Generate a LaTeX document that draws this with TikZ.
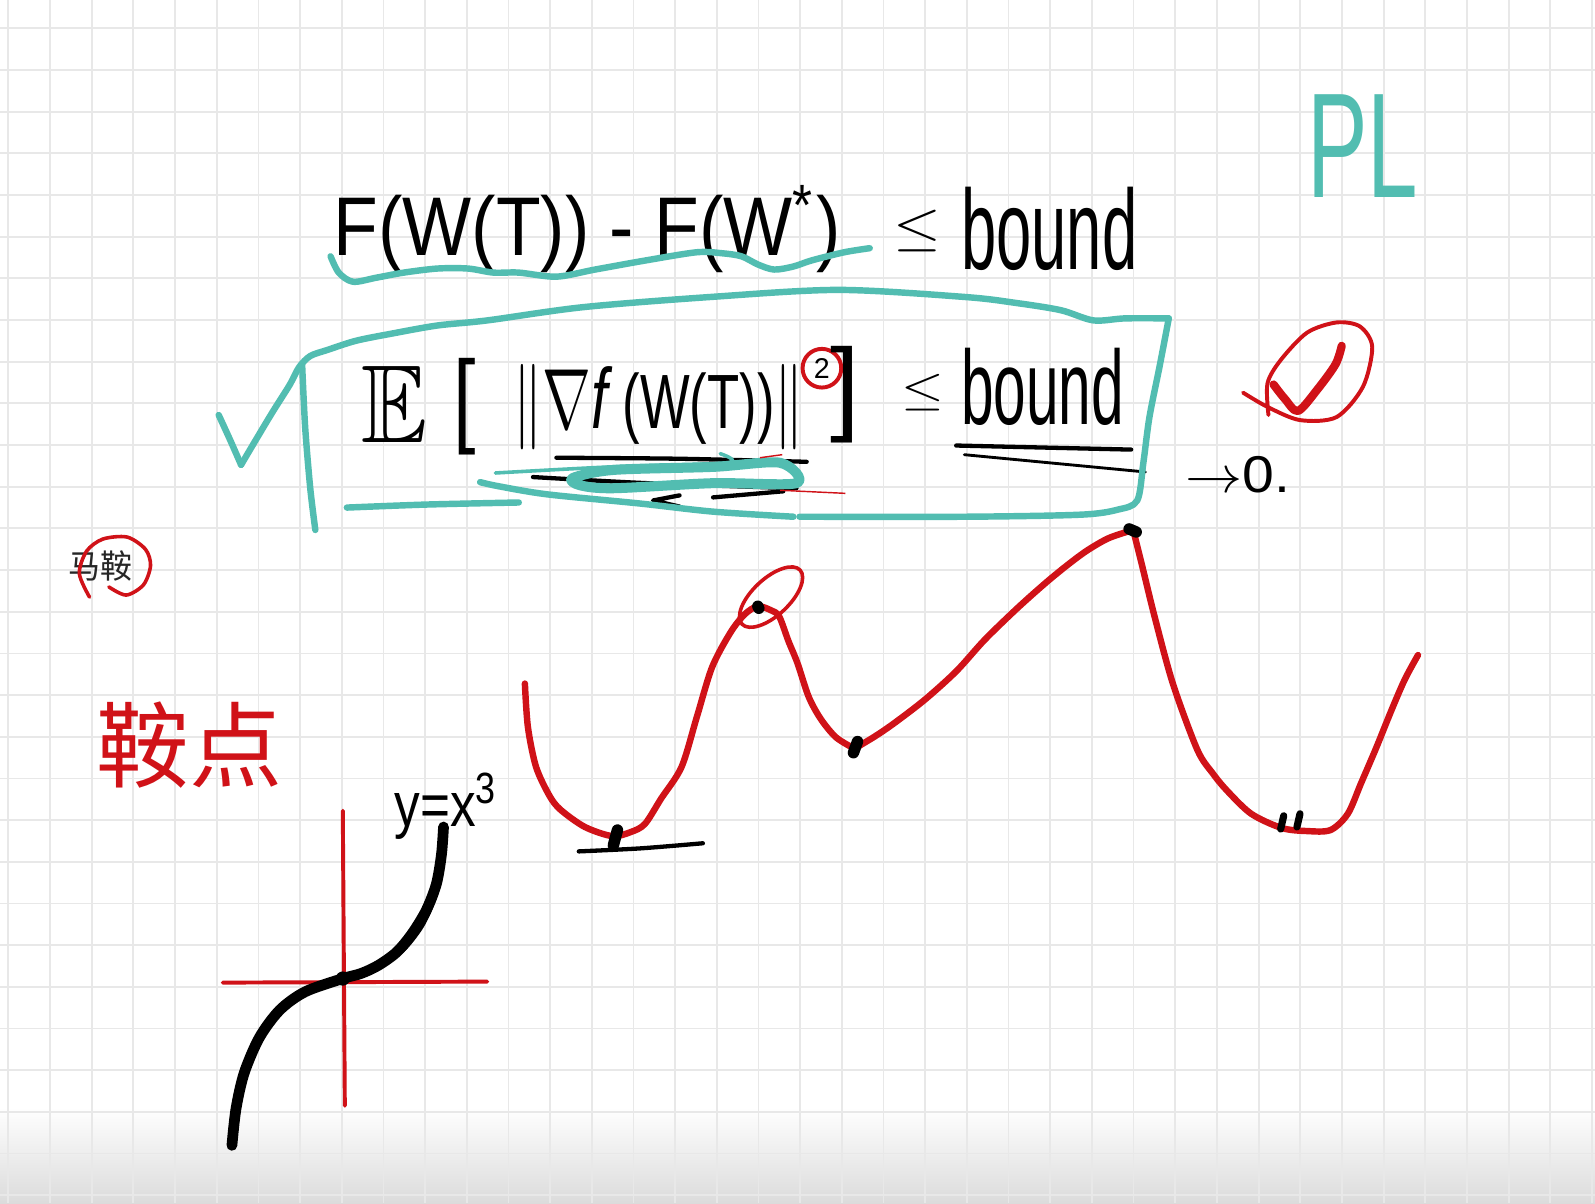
\documentclass[tikz,border=0pt]{standalone}
\usepackage{amssymb}
\usepackage{graphicx}
\usepackage{fontspec}
\setmainfont{Liberation Sans}
\newfontfamily\cjk{Noto Sans CJK SC}
\usetikzlibrary{calc}

\definecolor{penred}{RGB}{208,18,24}
\definecolor{penteal}{RGB}{82,189,177}
\definecolor{gridgray}{RGB}{232,232,232}

% squeeze a piece of handwriting into a w x h box (cm)
\newcommand{\handfit}[3]{\resizebox*{#1cm}{#2cm}{#3}}

\begin{document}
\begin{tikzpicture}[x=0.01cm, y=-0.01cm,
  every node/.style={inner sep=0pt, outer sep=0pt},
  hand/.style={anchor=north west},
  ink/.style={line cap=round, line join=round},
  redpen/.style={ink, draw=penred, line width=1.8pt},
  tealpen/.style={ink, draw=penteal, line width=1.8pt},
  blackpen/.style={ink, draw=black, line width=1.2pt},
  gridline/.style={draw=gridgray, line width=0.5pt},
  dotmark/.style={ink, draw=black, line width=3.2pt}
]
% paper
\useasboundingbox (0,0) rectangle (1568,1183);
\fill[white] (0,0) rectangle (1568,1183);
\shade[top color=white, bottom color=black!14] (0,1088) rectangle (1568,1183);
\foreach \gx in {0,...,38}
  \draw[gridline] ({8.2+40.97*\gx},0) -- ({8.2+40.97*\gx},1183);
\foreach \gy in {0,...,28}
  \draw[gridline] (0,{27.8+40.97*\gy}) -- (1568,{27.8+40.97*\gy});

% first line
\node[hand] (gap)  at (328,182) {\handfit{4.98}{0.86}{F(W(T)) - F(W\textsuperscript{*})}};
\node[hand] (leqa) at (878,207) {\handfit{0.47}{0.41}{$\leq$}};
\node[hand] (bnda) at (945,184) {\handfit{1.73}{0.82}{bound}};
\draw[tealpen] plot[smooth] coordinates {(325,252) (333,268) (347,277) (370,273) (397,268)
  (430,264) (460,264) (485,268) (510,268) (547,272) (585,265) (635,256) (685,248) (710,249)
  (729,252) (745,260) (761,265) (780,262) (798,256) (830,248) (855,244)};

% second line
\node[hand] (expect)   at (355,360) {\handfit{0.65}{0.75}{$\mathbb{E}$}};
\node[hand] (lbrack)   at (446,352) {\handfit{0.22}{0.95}{[}};
\node[hand] (gradnorm) at (505,358) {\handfit{2.85}{0.84}{$\|\nabla$\textit{f}\,{\small(W(T))}$\|$}};
\node[circle, draw=penred, line width=1.1pt, minimum size=0.38cm, font=\footnotesize]
  (square) at (808,362) {2};
\node[hand] (rbrack)   at (816,340) {\handfit{0.29}{0.95}{]}};
\node[hand] (leqb)     at (886,368) {\handfit{0.42}{0.36}{$\leq$}};
\node[hand] (bndb)     at (945,342) {\handfit{1.6}{0.76}{bound}};
\draw[blackpen] (940,438) -- (1112,442);
\draw[blackpen, line width=0.8pt] (948,447) -- (1126,464);
\node[hand] (tozero)   at (1165,449) {\handfit{1.03}{0.36}{$\rightarrow$0.}};

% scribbles under the gradient
\draw[blackpen] plot[smooth] coordinates {(547,450) (668,451) (793,454)};
\draw[blackpen] plot[smooth] coordinates {(524,469) (636,475) (783,480)};
\draw[blackpen] (668,487) -- (642,492) -- (668,498);
\draw[blackpen] (701,489) -- (770,483);
\draw[tealpen, line width=1pt] plot[smooth] coordinates {(487,465) (600,459) (715,455) (708,446)};
\draw[tealpen, line width=2.8pt] plot[smooth cycle] coordinates {(563,470) (603,462) (701,459)
  (767,455) (783,475) (701,475) (603,480) (570,477)};
\draw[penred, line width=0.4pt] (747,450) -- (769,447);
\draw[penred, line width=0.4pt] (767,482) -- (831,485);

% box with tick
\draw[tealpen] plot[smooth] coordinates {(215,408) (226,432) (237,457)};
\draw[tealpen] plot[smooth] coordinates {(237,457) (250,435) (268,405) (285,378) (294,361)
  (305,350) (322,344) (350,335) (385,328) (430,320) (479,315) (573,302) (698,292) (824,285)
  (949,292) (1000,298) (1043,305) (1075,315) (1106,313) (1149,313)};
\draw[tealpen] plot[smooth] coordinates {(1149,313) (1140,360) (1130,410) (1124,455) (1118,492)
  (1099,501) (1062,506) (949,508) (786,508)};
\draw[tealpen] plot[smooth] coordinates {(780,508) (701,503) (629,495) (538,486) (490,478) (472,474)};
\draw[tealpen] plot[smooth] coordinates {(341,499) (420,496) (510,494)};
\draw[tealpen] plot[smooth] coordinates {(297,358) (300,420) (305,480) (310,521)};

% top right
\node[hand, text=penteal] (pl) at (1285,93) {\handfit{1.09}{1.01}{PL}};
\draw[redpen, line width=1.1pt] plot[smooth] coordinates {(1222,386) (1246,400) (1278,413)
  (1314,410) (1340,380) (1349,341) (1337,321) (1314,317) (1285,327) (1259,354) (1246,377) (1247,408)};
\draw[redpen, line width=2.3pt] plot[smooth] coordinates {(1252,378) (1263,392) (1276,404)
  (1295,383) (1313,358) (1319,340)};

% left notes
\node[hand, text=black!85] (maan) at (67,541) {\handfit{0.63}{0.30}{\cjk 马鞍}};
\draw[redpen, line width=1pt] plot[smooth] coordinates {(88,587) (78,564) (85,542) (101,530)
  (125,528) (143,540) (148,556) (141,575) (124,585) (107,577)};
\node[hand, text=penred] (andian) at (95,690) {\handfit{1.83}{0.85}{\cjk 鞍点}};

% landscape
\draw[redpen] plot[smooth] coordinates {(516,672) (519,715) (527,754) (540,782) (551,796)
  (575,813) (602,822) (620,818) (634,810) (650,785) (670,754) (685,705) (700,656) (718,622)
  (732,604) (745,596) (758,600) (766,606) (775,630) (784,652) (795,685) (807,707) (822,725) (840,736)};
\draw[redpen] plot[smooth] coordinates {(840,736) (860,724) (879,711) (909,688) (940,660)
  (968,629) (1000,598) (1028,573) (1050,555) (1069,541) (1090,529) (1114,521)};
\draw[redpen] plot[smooth] coordinates {(1114,521) (1123,557) (1135,606) (1153,672) (1177,737)
  (1192,760) (1206,777) (1230,800) (1260,814) (1285,817) (1308,816) (1325,800) (1338,770)
  (1353,735) (1368,698) (1381,668) (1394,644)};
\draw[redpen, line width=1pt, rotate around={43:(758,587)}] (758,587) ellipse[x radius=39, y radius=18];
\draw[dotmark] (607,816) -- (603,831);
\draw[dotmark] (745,596) -- (746,598);
\draw[dotmark] (843,729) -- (839,740);
\draw[dotmark] (1110,520) -- (1117,523);
\draw[dotmark, line width=2pt] (1262,802) -- (1259,815);
\draw[dotmark, line width=2pt] (1278,800) -- (1275,813);
\draw[blackpen] plot[smooth] coordinates {(569,837) (630,834) (691,829)};

% y = x^3
\node[hand] (cubic) at (388,760) {\handfit{1.02}{0.65}{y=x\textsuperscript{3}}};
\draw[redpen, line width=1.1pt] (219,966) -- (479,965);
\draw[redpen, line width=1.1pt] (337,797) -- (339,1087);
\draw[ink, line width=3pt] plot[smooth] coordinates {(228,1126) (232,1090) (240,1055) (255,1020)
  (275,993) (300,975) (337,962) (355,957) (372,949) (390,936) (405,918)
  (419,895) (429,869) (434,840) (436,813)};
\draw[ink, line width=1.2pt] plot[smooth] coordinates {(372,946) (395,935) (415,910) (428,880)
  (433,850) (436,815)};
\fill (337,962) circle[radius=7];
\end{tikzpicture}
\end{document}
